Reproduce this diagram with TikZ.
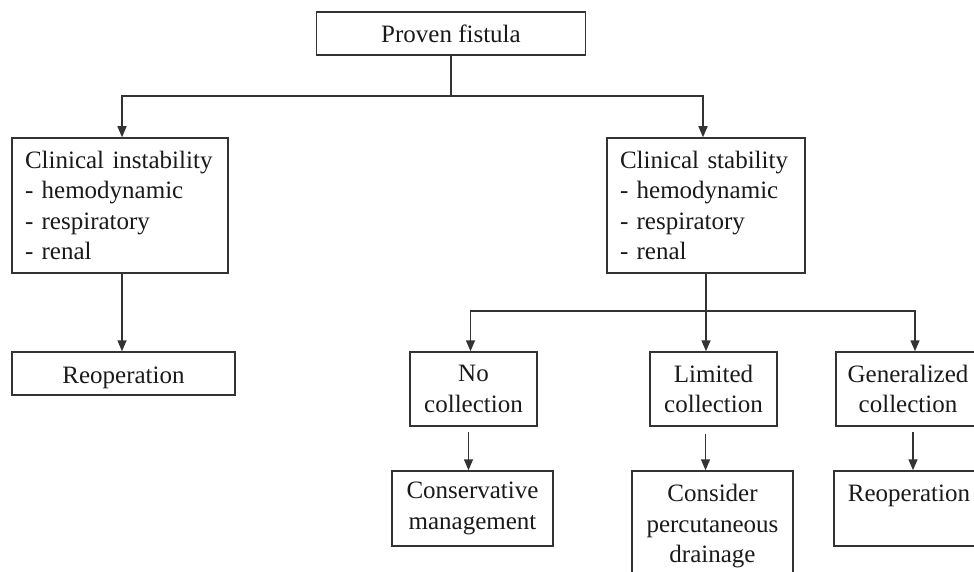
\documentclass[tikz,border=0pt]{standalone}
\usepackage{fontspec}
\setmainfont{Liberation Serif}
\usepackage{xcolor}
\usetikzlibrary{arrows.meta}
\definecolor{linegray}{HTML}{333333}
\definecolor{textgray}{HTML}{1A1A1A}
\tikzset{
  flowbox/.style={draw=linegray,line width=1.5pt,fill=white,text=textgray,inner sep=0pt,
    font=\fontsize{25}{30.5}\selectfont,align=center},
  listbox/.style={flowbox,align=left,inner xsep=13pt},
  flowline/.style={draw=linegray,line width=1.5pt},
  flowarrow/.style={flowline,-{Triangle[length=11pt,width=9pt]}}
}

\begin{document}
\begin{tikzpicture}[x=1pt,y=-1pt]
  \clip (0,0) rectangle (974,572);
  \fill[white] (0,0) rectangle (974,572);
  % top
  \node[flowbox,minimum width=269pt,minimum height=43pt] (fistula) at (451,33.5) {Proven fistula};
  \node[listbox,text width=190pt,minimum height=135pt] (instab) at (120,205.5)
    {Clinical instability\\- hemodynamic\\- respiratory\\- renal};
  \node[listbox,text width=172pt,minimum height=135pt] (stab) at (706,205.5)
    {Clinical stability\\- hemodynamic\\- respiratory\\- renal};
  % second level
  \node[flowbox,minimum width=223pt,minimum height=43pt,text height=24pt,text depth=5pt] (reopleft) at (123.5,373.5) {Reoperation};
  \node[flowbox,minimum width=127pt,minimum height=74pt] (nocoll) at (473.5,389) {No\\collection};
  \node[flowbox,minimum width=127pt,minimum height=74pt] (limcoll) at (713.5,389) {Limited\\collection};
  \node[flowbox,minimum width=144pt,minimum height=74pt] (gencoll) at (908,389) {Generalized\\collection};
  % bottom
  \node[flowbox,minimum width=161pt,minimum height=75pt] (conserv) at (472.5,508.5) {Conservative\\management};
  \node[flowbox,minimum width=161pt,minimum height=111pt] (drain) at (712.5,526.5) {Consider\\percutaneous\\drainage};
  \node[flowbox,minimum width=150pt,minimum height=75pt] (reopright) at (909,508.5) {Reoperation\\~};

  \coordinate (split1) at (fistula.south |- 0,96);
  \coordinate (split2) at (stab.south |- 0,311);
  \draw[flowline] (fistula.south) -- (split1);
  \draw[flowarrow] (split1) -| ([xshift=2pt]instab.north);
  \draw[flowarrow] (split1) -| ([xshift=-3pt]stab.north);
  \draw[flowarrow] ([xshift=2pt]instab.south) -- ([xshift=2pt]instab.south |- reopleft.north);
  \draw[flowarrow] (stab.south) -- (stab.south |- limcoll.north);
  \draw[flowarrow] (split2) -| ([xshift=-3pt]nocoll.north);
  \draw[flowarrow] (split2) -| ([xshift=7pt]gencoll.north);
  \draw[flowarrow,shorten <=5pt] ([xshift=-5pt]nocoll.south) -- ([xshift=-5pt]nocoll.south |- conserv.north);
  \draw[flowarrow,shorten <=7pt] ([xshift=-8pt]limcoll.south) -- ([xshift=-8pt]limcoll.south |- drain.north);
  \draw[flowarrow,shorten <=5pt] ([xshift=5pt]gencoll.south) -- ([xshift=5pt]gencoll.south |- reopright.north);
\end{tikzpicture}
\end{document}
